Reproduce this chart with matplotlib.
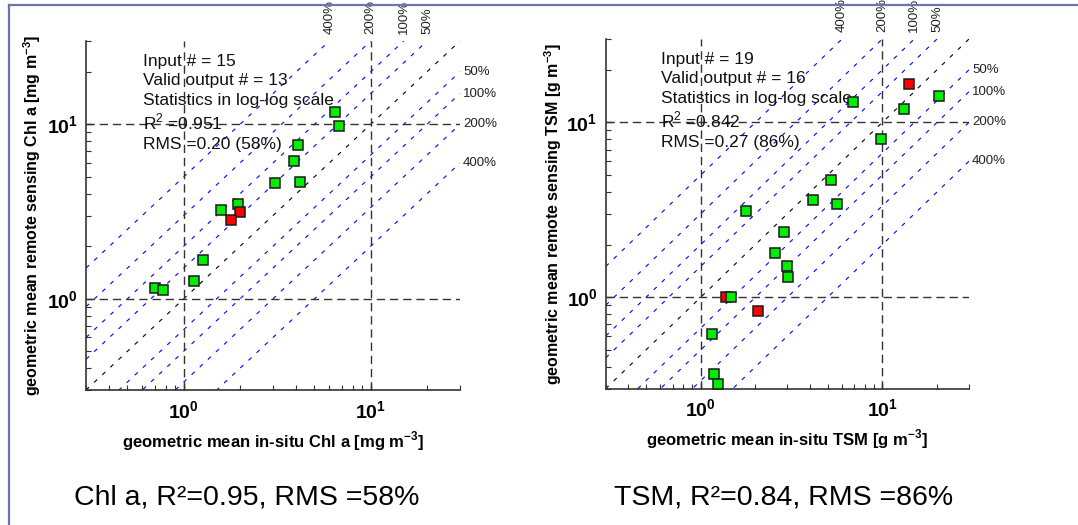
import numpy as np
import matplotlib
matplotlib.use('Agg')
import matplotlib.pyplot as plt
import matplotlib.transforms as mtrans
from matplotlib.lines import Line2D
from matplotlib.ticker import FixedLocator, NullFormatter

plt.rcParams['font.family'] = ['Liberation Sans', 'DejaVu Sans']
plt.rcParams['mathtext.fontset'] = 'custom'
plt.rcParams['mathtext.rm'] = 'Liberation Sans'
plt.rcParams['mathtext.bf'] = 'Liberation Sans:bold'
plt.rcParams['lines.scale_dashes'] = False

# Chl a: in-situ vs remote sensing (geometric means)
chl_ok_x = [6.47, 6.75, 4.06, 3.88, 3.09, 4.18, 1.94, 1.59, 1.27, 1.14, 0.70, 0.77]
chl_ok_y = [11.8, 9.8, 7.6, 6.12, 4.61, 4.65, 3.47, 3.22, 1.67, 1.26, 1.15, 1.12]
chl_bad_x = [2.0, 1.79]
chl_bad_y = [3.13, 2.84]
chl_stats = ["Input # = 15", "Valid output # = 13", "Statistics in log-log scale",
             "R$^2$ =0.951", "RMS =0.20 (58%)"]

# TSM
tsm_ok_x = [20.4, 6.92, 13.1, 9.8, 5.22, 4.13, 5.6, 1.77, 2.86, 2.55, 2.97, 3.01,
            1.47, 1.15, 1.18, 1.24]
tsm_ok_y = [14.1, 13.1, 11.9, 8.09, 4.7, 3.62, 3.4, 3.1, 2.36, 1.79, 1.51, 1.31,
            1.0, 0.618, 0.363, 0.32]
tsm_bad_x = [14.1, 1.38, 2.08]
tsm_bad_y = [16.5, 1.0, 0.838]
tsm_stats = ["Input # = 19", "Valid output # = 16", "Statistics in log-log scale",
             "R$^2$ =0.842", "RMS =0.27 (86%)"]

pct = [0.5, 1, 2, 4]
pct_labels = ['50%', '100%', '200%', '400%']
lim = (0.3, 30)

W, H = 1078, 525
fig = plt.figure(figsize=(W / 100, H / 100), dpi=100)


def panel(rect, ok_x, ok_y, bad_x, bad_y, stats, xlab, ylab, red_first, ylab_x, xlab_y):
    ax = fig.add_axes(rect)
    ax.set_xscale('log')
    ax.set_yscale('log')
    ax.set_xlim(lim)
    ax.set_ylim(lim)

    xs = np.array(lim)
    ax.plot(xs, xs, color='black', lw=0.8, dashes=(3, 5), zorder=2)
    for p in pct:
        ax.plot(xs, xs * (1 + p), color='#0000ff', lw=0.8, dashes=(3, 5), zorder=2)
        ax.plot(xs, xs / (1 + p), color='#0000ff', lw=0.8, dashes=(3, 5), zorder=2)

    # dashed reference lines at the decades
    for v in (1, 10):
        ax.axhline(v, color='#333333', lw=1.0, dashes=(6, 3.5), zorder=2.5)
        ax.axvline(v, color='#333333', lw=1.0, dashes=(6, 3.5), zorder=2.5)

    mk = dict(marker='s', ls='none', ms=7.8, mec='#1a1a1a', mew=1.1, zorder=5)
    if red_first:
        ax.plot(bad_x, bad_y, mfc='#ff0000', **mk)
        ax.plot(ok_x, ok_y, mfc='#00ee00', **mk)
    else:
        ax.plot(ok_x, ok_y, mfc='#00ee00', **mk)
        ax.plot(bad_x, bad_y, mfc='#ff0000', **mk)

    # percentage labels for the envelope lines
    tr_right = mtrans.blended_transform_factory(ax.transAxes, ax.transData)
    tr_top = mtrans.blended_transform_factory(ax.transData, ax.transAxes)
    for p, lab in zip(pct, pct_labels):
        ax.text(1.008, lim[1] / (1 + p), lab, transform=tr_right, ha='left',
                va='center', fontsize=9.5, color='#222222')
        ax.text(lim[1] / (1 + p), 1.02, lab, transform=tr_top, ha='center',
                va='bottom', rotation=90, fontsize=9.5, color='#222222')

    base = [0.929, 0.873, 0.816, 0.747, 0.690]
    for s, yb in zip(stats, base):
        ax.text(0.152, yb, s, transform=ax.transAxes, ha='left', va='baseline',
                fontsize=12.5, color='#111111', zorder=3)

    for side in ('top', 'right'):
        ax.spines[side].set_visible(False)
    for side in ('left', 'bottom'):
        ax.spines[side].set_color('#333333')
        ax.spines[side].set_linewidth(1.2)

    major = [1, 10]
    minor = [0.3, 0.4, 0.5, 0.6, 0.7, 0.8, 0.9, 2, 3, 4, 5, 6, 7, 8, 9, 20, 30]
    for axis in (ax.xaxis, ax.yaxis):
        axis.set_major_locator(FixedLocator(major))
        axis.set_minor_locator(FixedLocator(minor))
        axis.set_minor_formatter(NullFormatter())
    ax.set_xticklabels([r'$\mathbf{10^{0}}$', r'$\mathbf{10^{1}}$'])
    ax.set_yticklabels([r'$\mathbf{10^{0}}$', r'$\mathbf{10^{1}}$'])
    ax.tick_params(which='both', direction='in', top=False, right=False,
                   color='#333333', labelsize=14)
    ax.tick_params(which='major', length=4, width=1)
    ax.tick_params(which='minor', length=3.5, width=0.8)
    ax.tick_params(axis='x', pad=7)
    ax.tick_params(axis='y', pad=6)

    ax.set_xlabel(xlab, fontsize=12, fontweight='bold')
    ax.set_ylabel(ylab, fontsize=11.5, fontweight='bold')
    ax.xaxis.set_label_coords(0.5, xlab_y)
    ax.yaxis.set_label_coords(ylab_x, 0.5)
    ax.xaxis.label.set_va('top')
    return ax


panel([86 / W, 1 - 390 / H, 374 / W, 349 / H], chl_ok_x, chl_ok_y, chl_bad_x, chl_bad_y,
      chl_stats, r'geometric mean in-situ Chl a [mg m$^{\mathbf{-3}}$]',
      r'geometric mean remote sensing Chl a [mg m$^{\mathbf{-3}}$]', False, -0.116, -0.112)
panel([605.7 / W, 1 - 388.7 / H, 363.3 / W, 349.7 / H], tsm_ok_x, tsm_ok_y, tsm_bad_x,
      tsm_bad_y, tsm_stats, r'geometric mean in-situ TSM [g m$^{\mathbf{-3}}$]',
      r'geometric mean remote sensing TSM [g m$^{\mathbf{-3}}$]', True, -0.115, -0.11)

cap = dict(ha='center', va='center', fontsize=20.5, color='black')
fig.text(247 / W, 1 - 498 / H, 'Chl a, R²=0.95, RMS =58%', **cap)
fig.text(784 / W, 1 - 498 / H, 'TSM, R²=0.84, RMS =86%', **cap)

# slide frame
fig.add_artist(Line2D([9 / W, 1], [1 - 5 / H, 1 - 5 / H], color='#6e74b0', lw=1.6))
fig.add_artist(Line2D([9 / W, 9 / W], [0, 1 - 5 / H], color='#6e74b0', lw=1.6))

fig.savefig('out.png', dpi=100)
